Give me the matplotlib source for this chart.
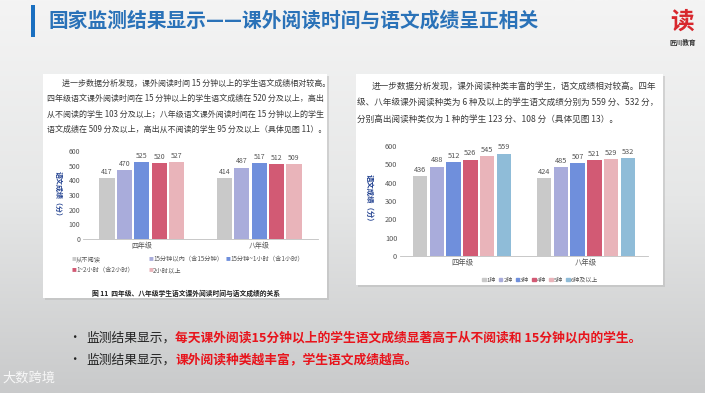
import numpy as np
import matplotlib
matplotlib.use("Agg")
import matplotlib.pyplot as plt
from matplotlib.patches import Rectangle

plt.rcParams['font.family'] = ['Noto Sans CJK SC', 'DejaVu Sans']

W, H = 705, 393

# ---- data ----
grades = ["四年级", "八年级"]

time_groups = ["从不阅读", "15分钟以内（含15分钟）", "15分钟~1小时（含1小时）",
               "1~2小时（含2小时）", "2小时以上"]
time_scores = [
    [417, 414],
    [470, 487],
    [525, 517],
    [520, 512],
    [527, 509],
]
time_colors = ["#c9c9c9", "#a9acdb", "#6f8fdc", "#d25a74", "#e9b4ba"]

kind_groups = ["1种", "2种", "3种", "4种", "5种", "6种及以上"]
kind_scores = [
    [436, 424],
    [488, 485],
    [512, 507],
    [526, 521],
    [545, 529],
    [559, 532],
]
kind_colors = ["#c9c9c9", "#a9acdb", "#6f8fdc", "#d25a74", "#e9b4ba", "#8fbcd8"]

yticks = [0, 100, 200, 300, 400, 500, 600]

title = "国家监测结果显示——课外阅读时间与语文成绩呈正相关"
left_para = [
    "进一步数据分析发现，课外阅读时间 15 分钟以上的学生语文成绩相对较高。",
    "四年级语文课外阅读时间在 15 分钟以上的学生语文成绩在 520 分及以上，高出",
    "从不阅读的学生 103 分及以上；八年级语文课外阅读时间在 15 分钟以上的学生",
    "语文成绩在 509 分及以上，高出从不阅读的学生 95 分及以上（具体见图 11）。",
]
right_para = [
    "进一步数据分析发现，课外阅读种类丰富的学生，语文成绩相对较高。四年",
    "级、八年级课外阅读种类为 6 种及以上的学生语文成绩分别为 559 分、532 分，",
    "分别高出阅读种类仅为 1 种的学生 123 分、108 分（具体见图 13）。",
]
caption = "图 11  四年级、八年级学生语文课外阅读时间与语文成绩的关系"
bullets = [
    ("监测结果显示，", "每天课外阅读15分钟以上的学生语文成绩显著高于从不阅读和 15分钟以内的学生。"),
    ("监测结果显示，", "课外阅读种类越丰富，学生语文成绩越高。"),
]


def fx(x):
    return x / W


def fy(y):
    return 1 - y / H


def px_axes(fig, left, top, right, bottom):
    return fig.add_axes([fx(left), fy(bottom), (right - left) / W, (bottom - top) / H])


def grouped_bars(ax, scores, colors, step, width, fs):
    n = len(scores)
    x = np.arange(len(grades))
    for i, (vals, c) in enumerate(zip(scores, colors)):
        pos = x + (i - (n - 1) / 2) * step
        bars = ax.bar(pos, vals, width, color=c)
        ax.bar_label(bars, padding=1.5, fontsize=fs, color="#555555")
    ax.set_xlim(-0.5, 1.5)
    ax.set_ylim(0, 600)
    ax.set_yticks(yticks)
    ax.set_xticks(x)
    ax.set_xticklabels(grades)
    ax.tick_params(length=0, labelsize=fs, colors="#555555", pad=2)
    for s in ["top", "right", "left"]:
        ax.spines[s].set_visible(False)
    ax.spines["bottom"].set_color("#bfbfbf")
    ax.spines["bottom"].set_linewidth(0.6)
    ax.set_facecolor("none")
    ax.set_zorder(2)


fig = plt.figure(figsize=(W / 100, H / 100), dpi=100)

# background gradient
bg = fig.add_axes([0, 0, 1, 1])
grad = np.linspace(0, 1, 256).reshape(-1, 1)
cmap = matplotlib.colors.LinearSegmentedColormap.from_list("bg", ["#f4f4f4", "#e6e7e7", "#c9cacb"])
bg.imshow(grad, aspect="auto", cmap=cmap, extent=[0, 1, 0, 1])
bg.set_xlim(0, 1)
bg.set_ylim(0, 1)
bg.axis("off")
bg.set_zorder(-2)

# title bar
fig.patches.append(Rectangle((fx(31), fy(37)), 4 / W, 32 / H, transform=fig.transFigure,
                             facecolor="#1a6fc0", edgecolor="none", zorder=1))
fig.text(fx(48), fy(21), title, fontsize=14.2, fontweight="bold", color="#2a72b8",
         va="center", ha="left")

# logo
fig.text(fx(682), fy(22), "读", fontsize=17, fontweight="bold", color="#d8272d",
         ha="center", va="center")
fig.text(fx(683), fy(42), "匠川教育", fontsize=4.8, fontweight="bold", color="#333333",
         ha="center", va="center")

# white panels
for (l, t, r, b) in [(43, 74, 327, 298), (356, 74, 663, 285)]:
    fig.patches.append(Rectangle((fx(l) + 2 / W, fy(b) - 2 / H), (r - l) / W, (b - t) / H,
                                 transform=fig.transFigure, facecolor="#b8b8b8",
                                 edgecolor="none", alpha=0.5, zorder=0.5))
    fig.patches.append(Rectangle((fx(l), fy(b)), (r - l) / W, (b - t) / H,
                                 transform=fig.transFigure, facecolor="white",
                                 edgecolor="none", zorder=0.6))

# paragraphs
for i, line in enumerate(left_para):
    x = 62 if i == 0 else 47
    fig.text(fx(x), fy(83 + i * 15.5), line, fontsize=5.75, color="#3a3a3a", va="center")
for i, line in enumerate(right_para):
    x = 372 if i == 0 else 357
    fig.text(fx(x), fy(86 + i * 16.5), line, fontsize=6.2, color="#3a3a3a", va="center")

# left chart
ax1 = px_axes(fig, 83, 151, 318, 239)
grouped_bars(ax1, time_scores, time_colors, step=0.148, width=0.13, fs=5)
fig.text(fx(58), fy(195), "语文成绩（分）", rotation=270, fontsize=5, fontweight="bold",
         color="#1f3f8f", ha="center", va="center")
for i, (name, c) in enumerate(zip(time_groups, time_colors)):
    row, col = divmod(i, 3)
    x0 = 72 + col * 77
    y0 = 259 + row * 11
    fig.text(fx(x0), fy(y0), "■", fontsize=3.5, color=c, va="center")
    fig.text(fx(x0 + 4), fy(y0), name, fontsize=4.5, color="#555555", va="center")
fig.text(fx(186), fy(293), caption, fontsize=4.9, fontweight="bold", color="#222222",
         ha="center", va="center")

# right chart
ax2 = px_axes(fig, 400, 146, 648, 256)
grouped_bars(ax2, kind_scores, kind_colors, step=0.136, width=0.115, fs=5.3)
fig.text(fx(370), fy(200), "语文成绩（分）", rotation=270, fontsize=5.3, fontweight="bold",
         color="#1f3f8f", ha="center", va="center")
handles = [Rectangle((0, 0), 1, 1, color=c) for c in kind_colors]
ax2.legend(handles, kind_groups, ncol=6, loc="center", bbox_to_anchor=(fx(540), fy(280)),
           bbox_transform=fig.transFigure, frameon=False, fontsize=4.3, handlelength=0.6,
           handleheight=0.6, handletextpad=0.15, columnspacing=0.5, labelcolor="#555555",
           borderpad=0)

# bullets
for i, (black, red) in enumerate(bullets):
    y = fy(338 + i * 22)
    fig.text(fx(68), y, "•", fontsize=9, color="#222222", va="center")
    t = fig.text(fx(86), y, black, fontsize=9.2, color="#222222", va="center")
    bg.annotate(red, xy=(1, 0.5), xycoords=t, va="center", ha="left", fontsize=9.2,
                fontweight="bold", color="#e8141c", annotation_clip=False)

# watermark
fig.text(fx(2), fy(378), "大数跨境", fontsize=9.5, color="white", alpha=0.85, va="center")

fig.savefig("out.png", dpi=100)
